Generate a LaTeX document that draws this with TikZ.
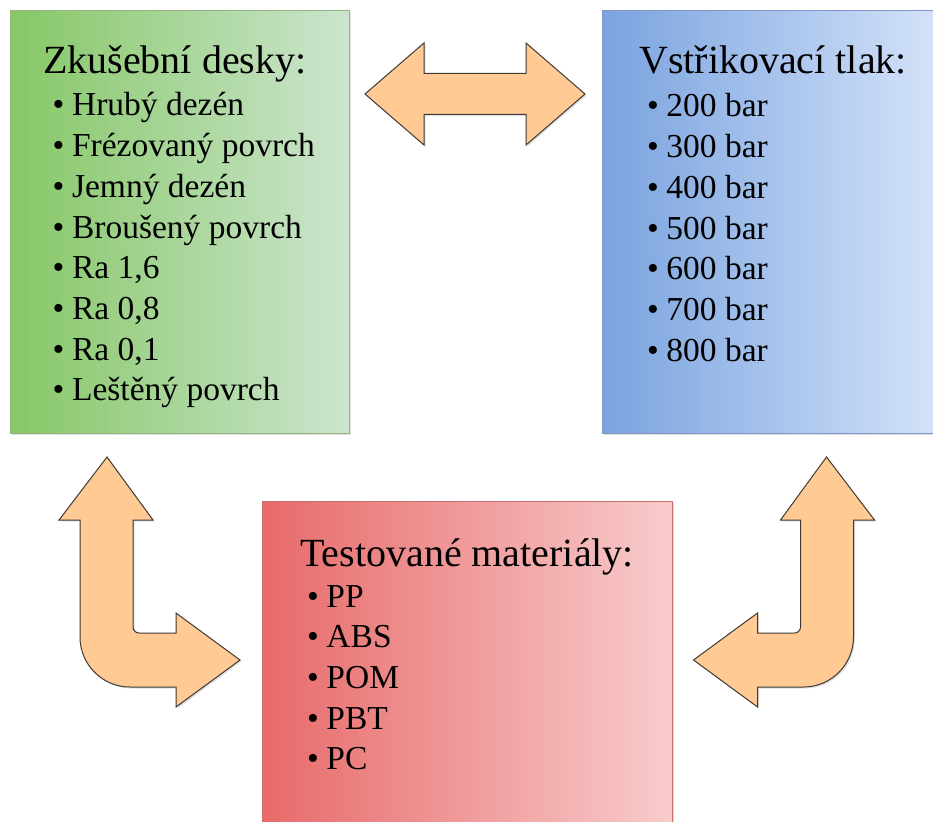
\documentclass[tikz,border=0pt]{standalone}
\usepackage{fontspec}
\setmainfont{Liberation Serif}
\usetikzlibrary{shadows}
\definecolor{gL}{RGB}{134,199,102}
\definecolor{gR}{RGB}{204,229,206}
\definecolor{gB}{RGB}{150,180,130}
\definecolor{bL}{RGB}{122,163,223}
\definecolor{bR}{RGB}{214,228,250}
\definecolor{bB}{RGB}{130,150,200}
\definecolor{rL}{RGB}{232,106,106}
\definecolor{rR}{RGB}{248,204,204}
\definecolor{rB}{RGB}{200,110,110}
\definecolor{arrF}{RGB}{255,202,147}
\definecolor{arrD}{RGB}{64,58,52}
\tikzset{
  panel/.style={rectangle, draw, line width=0.8pt, inner sep=0pt, anchor=north west,
    drop shadow={opacity=0.25, shadow xshift=1.5pt, shadow yshift=-1.5pt}},
  blockarrow/.style={fill=arrF, draw=arrD, line width=1pt, line join=miter,
    drop shadow={opacity=0.25, shadow xshift=1.5pt, shadow yshift=-1.5pt}},
  ttl/.style={anchor=base west, inner sep=0pt, font=\fontsize{40}{48}\selectfont},
  itm/.style={anchor=base west, inner sep=0pt, font=\fontsize{33.5}{40}\selectfont},
}
\newcommand{\bul}{\makebox[19.5pt][l]{•}}
\begin{document}
\begin{tikzpicture}[x=1pt,y=-1pt]
\clip (0,0) rectangle (933,821);
\fill[white] (0,0) rectangle (933,821);
% panels
\node[panel, draw=gB, left color=gL, right color=gR, minimum width=339pt, minimum height=423pt] (green) at (10,10) {};
\node[panel, draw=bB, left color=bL, right color=bR, minimum width=345pt, minimum height=423pt] (blue) at (602,10) {};
\node[panel, draw=rB, left color=rL, right color=rR, minimum width=410pt, minimum height=340pt] (red) at (262,501) {};
% texts
\node[ttl] (gt) at (43,74) {Zkušební desky:};
\foreach \t [count=\i] in {{Hrubý dezén},{Frézovaný povrch},{Jemný dezén},{Broušený povrch},{Ra 1,6},{Ra 0,8},{Ra 0,1},{Leštěný povrch}}
  \node[itm] (g\i) at (52.4,{116+40.7*(\i-1)}) {\bul\t};
\node[ttl] (bt) at (639,74) {Vstřikovací tlak:};
\foreach \t [count=\i] in {{200 bar},{300 bar},{400 bar},{500 bar},{600 bar},{700 bar},{800 bar}}
  \node[itm] (b\i) at (646.8,{117+40.7*(\i-1)}) {\bul\t};
\node[ttl] (rt) at (300,566) {Testované materiály:};
\foreach \t [count=\i] in {PP,ABS,POM,PBT,PC}
  \node[itm] (r\i) at (306.8,{607+40.7*(\i-1)}) {\bul\t};
% double arrow
\draw[blockarrow] (365,94) -- (424,43) -- (424,73.5) -- (526,73.5) -- (526,43) -- (585,94)
  -- (526,145) -- (526,114.5) -- (424,114.5) -- (424,145) -- cycle;
% left bent arrow
\draw[blockarrow] (107,457) -- (153,520) -- (133,520) -- (133,627)
  .. controls (133,630.3) and (135.7,633) .. (139,633) -- (176,633) -- (176,613)
  -- (240,660) -- (176,707) -- (176,687) -- (130,687)
  .. controls (102.4,687) and (80,664.6) .. (80,637) -- (80,520) -- (59,520) -- cycle;
% right bent arrow
\draw[blockarrow] (826.5,457) -- (780.5,520) -- (800.5,520) -- (800.5,627)
  .. controls (800.5,630.3) and (797.8,633) .. (794.5,633) -- (757.5,633) -- (757.5,613)
  -- (693.5,660) -- (757.5,707) -- (757.5,687) -- (803.5,687)
  .. controls (831.1,687) and (853.5,664.6) .. (853.5,637) -- (853.5,520) -- (874.5,520) -- cycle;
\end{tikzpicture}
\end{document}
